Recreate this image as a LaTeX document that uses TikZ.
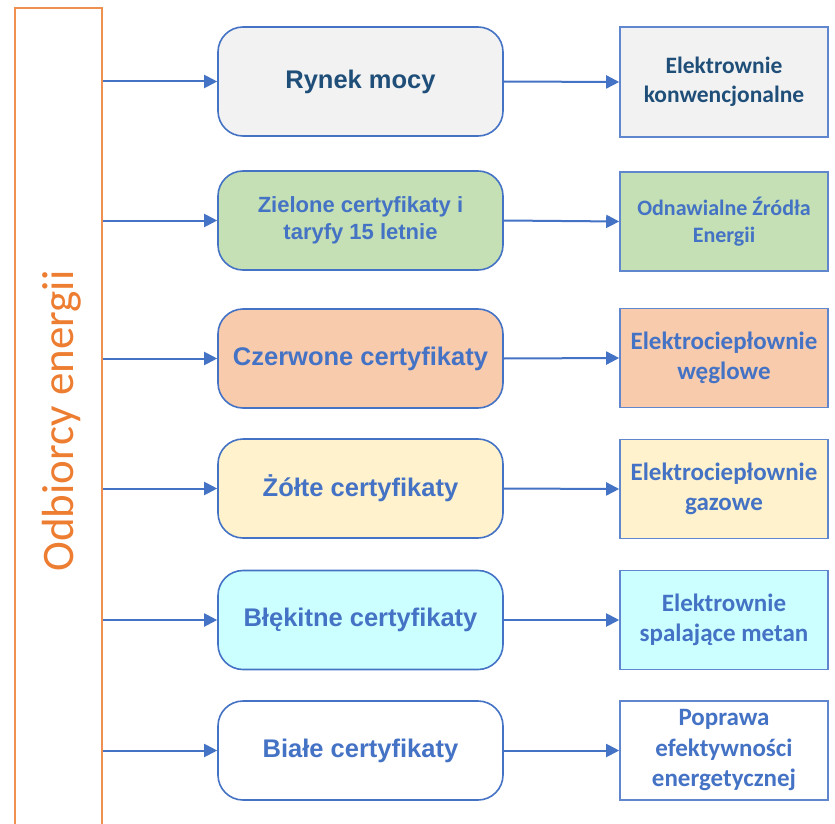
\documentclass[tikz,border=0pt]{standalone}
\usepackage{fontspec}
\setmainfont{Liberation Sans}
\newfontfamily\calib{Carlito}
\usetikzlibrary{arrows.meta}
\definecolor{bl}{HTML}{4472C4}
\definecolor{navy}{HTML}{1F4E79}
\definecolor{org}{HTML}{ED7D31}
\definecolor{fgray}{HTML}{F2F2F2}
\definecolor{fgreen}{HTML}{C5E0B4}
\definecolor{forange}{HTML}{F8CBAD}
\definecolor{fyellow}{HTML}{FFF2CC}
\definecolor{fcyan}{HTML}{CCFFFF}
\tikzset{
  midbox/.style={draw=bl, line width=1.6pt, rounded corners=25pt, minimum width=285pt,
    minimum height=99pt, inner sep=0pt, align=center, text=bl,
    font=\bfseries\fontsize{25.5}{30}\selectfont},
  rbox/.style={draw=bl!85, line width=1.6pt, minimum width=208pt, minimum height=99pt,
    inner sep=0pt, align=center, text=bl,
    font=\calib\bfseries\fontsize{25}{30.5}\selectfont},
  arr/.style={draw=bl, line width=2pt, -{Triangle[length=13pt,width=13pt]}},
}
\begin{document}
\begin{tikzpicture}[x=1pt,y=-1pt]
\useasboundingbox (0,0) rectangle (835,824);
\fill[white] (0,0) rectangle (835,824);
\begin{scope}
\clip (0,0) rectangle (835,824);
\node[draw=org!85, line width=2pt, minimum width=87pt, minimum height=850pt, inner sep=0pt, anchor=north west] (bar) at (14,7) {};
\end{scope}
\node[rotate=90, anchor=base, text=org, font=\calib\fontsize{45}{54}\selectfont] (lbl) at (73,421) {Odbiorcy energii};

\node[midbox, fill=fgray, text=navy, minimum height=109pt] (m1) at (360.5,81.5) {Rynek mocy};
\node[midbox, fill=fgreen, font=\bfseries\fontsize{22}{27}\selectfont] (m2) at (360.5,220.5) {Zielone certyfikaty i\\taryfy 15 letnie};
\node[midbox, fill=forange] (m3) at (360.5,358.5) {Czerwone certyfikaty};
\node[midbox, fill=fyellow] (m4) at (360.5,488.5) {Żółte certyfikaty};
\node[midbox, fill=fcyan] (m5) at (360.5,620) {Błękitne certyfikaty};
\node[midbox, fill=white] (m6) at (360.5,750.5) {Białe certyfikaty};

\node[rbox, fill=fgray, text=navy, minimum height=110pt, font=\calib\bfseries\fontsize{23.5}{29}\selectfont] (r1) at (724,82) {Elektrownie\\konwencjonalne};
\node[rbox, fill=fgreen, font=\calib\bfseries\fontsize{22}{27}\selectfont] (r2) at (724,221.5) {Odnawialne Źródła\\Energii};
\node[rbox, fill=forange] (r3) at (724,358) {Elektrociepłownie\\węglowe};
\node[rbox, fill=fyellow] (r4) at (724,489) {Elektrociepłownie\\gazowe};
\node[rbox, fill=fcyan] (r5) at (724,620) {Elektrownie\\spalające metan};
\node[rbox, fill=white] (r6) at (724,750.5) {Poprawa\\efektywności\\energetycznej};

\foreach \i in {1,...,6}{
  \draw[arr] (bar.east |- m\i.west) -- (m\i.west);
  \draw[arr] (m\i.east) -- (r\i.west);
}
\end{tikzpicture}
\end{document}
